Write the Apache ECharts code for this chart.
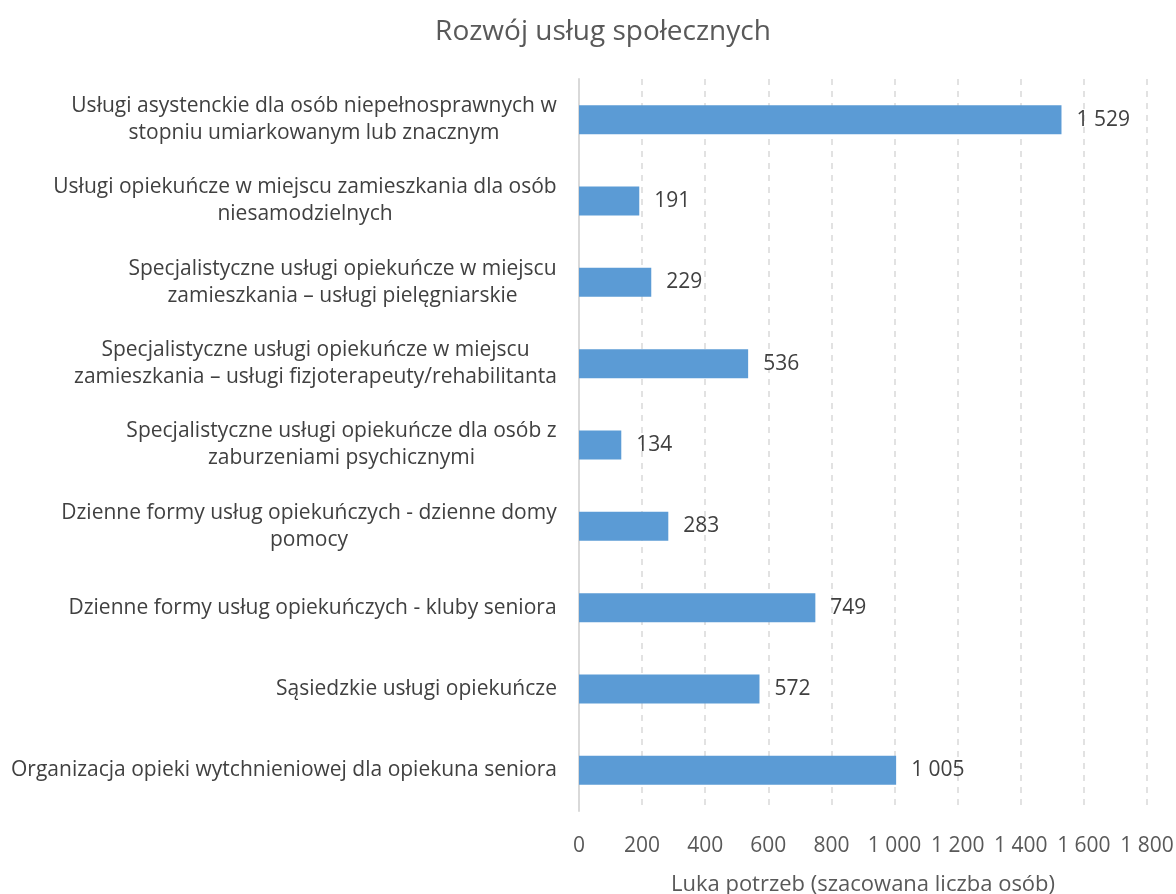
<!DOCTYPE html>
<html>
<head>
<meta charset="utf-8">
<script src="https://cdn.jsdelivr.net/npm/echarts@6/dist/echarts.min.js"></script>
<style>
  html, body { margin: 0; padding: 0; background: #ffffff; }
  #chart { width: 1176px; height: 894px; }
</style>
</head>
<body>
<div id="chart"></div>
<script>
// Service categories (top to bottom) and estimated needs gap
const categories = [
  'Usługi asystenckie dla osób niepełnosprawnych w\nstopniu umiarkowanym lub znacznym',
  'Usługi opiekuńcze w miejscu zamieszkania dla osób\nniesamodzielnych',
  'Specjalistyczne usługi opiekuńcze w miejscu\nzamieszkania – usługi pielęgniarskie',
  'Specjalistyczne usługi opiekuńcze w miejscu\nzamieszkania – usługi fizjoterapeuty/rehabilitanta',
  'Specjalistyczne usługi opiekuńcze dla osób z\nzaburzeniami psychicznymi',
  'Dzienne formy usług opiekuńczych - dzienne domy\npomocy',
  'Dzienne formy usług opiekuńczych - kluby seniora',
  'Sąsiedzkie usługi opiekuńcze',
  'Organizacja opieki wytchnieniowej dla opiekuna seniora'
];
const values = [1529, 191, 229, 536, 134, 283, 749, 572, 1005];
const axisMin = 0;
const axisMax = 1800;
const axisStep = 200;

const FONT = '"Open Sans", sans-serif';
const LABEL_SIZE = 21;

// Thousands separated by a space, e.g. 1 529
const fmt = v => String(v).replace(/\B(?=(\d{3})+(?!\d))/g, ' ');

// Each category label is centred on its own widest line
const ctx = document.createElement('canvas').getContext('2d');
ctx.font = LABEL_SIZE + 'px ' + FONT;
const rich = {};
categories.forEach((c, i) => {
  const w = Math.max(...c.split('\n').map(l => ctx.measureText(l).width));
  rich['r' + i] = { width: Math.ceil(w) + 2, align: 'center', lineHeight: 27,
                    fontSize: LABEL_SIZE, fontFamily: FONT, color: '#404040' };
});

const chart = echarts.init(document.getElementById('chart'));
chart.setOption({
  backgroundColor: '#ffffff',
  animation: false,
  title: {
    text: 'Rozwój usług społecznych',
    left: 598,
    textAlign: 'center',
    top: 13,
    textStyle: { fontFamily: FONT, fontSize: 28, fontWeight: 'normal', color: '#595959' }
  },
  grid: { left: 579, right: 29, top: 79, bottom: 83, containLabel: false, outerBoundsMode: 'none' },
  xAxis: {
    type: 'value',
    min: axisMin,
    max: axisMax,
    interval: axisStep,
    name: 'Luka potrzeb (szacowana liczba osób)',
    nameLocation: 'middle',
    nameGap: 63,
    nameTextStyle: { fontFamily: FONT, fontSize: 22, color: '#595959' },
    axisLine: { show: false },
    axisTick: { show: false },
    axisLabel: { margin: 25, fontFamily: FONT, fontSize: 21, color: '#595959', formatter: fmt },
    splitLine: { show: true, lineStyle: { color: '#d9d9d9', width: 1.5, type: [6, 6] } }
  },
  yAxis: {
    type: 'category',
    data: categories,
    inverse: true,
    axisLine: { show: true, lineStyle: { color: '#d9d9d9', width: 2 } },
    axisTick: { show: false },
    axisLabel: {
      margin: 21,
      formatter: (v, idx) => v.split('\n').map(l => '{r' + idx + '|' + l + '}').join('\n'),
      rich: rich
    }
  },
  series: [{
    type: 'bar',
    data: values,
    barWidth: 29,
    itemStyle: { color: '#5b9bd5' },
    label: {
      show: true,
      position: 'right',
      distance: 15,
      fontFamily: FONT,
      fontSize: 21,
      color: '#404040',
      formatter: p => fmt(p.value)
    }
  }]
});
</script>
</body>
</html>
